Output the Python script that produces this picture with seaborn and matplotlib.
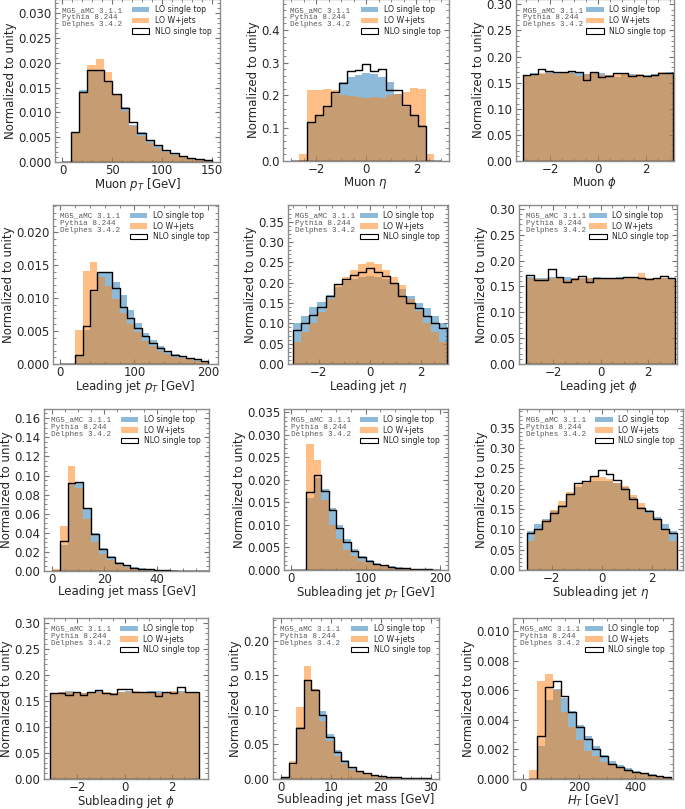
import numpy as np
import pandas as pd
import matplotlib
matplotlib.use("Agg")
import matplotlib.pyplot as plt
from matplotlib.patches import Patch
from matplotlib.ticker import AutoMinorLocator
import seaborn as sns

sns.set_theme(style="ticks")
plt.rcParams["font.family"] = ["DejaVu Sans"]
plt.rcParams["mathtext.fontset"] = "dejavusans"

PI = np.pi

# ---- data: normalized bin contents ----
# order in every panel: LO single top, LO W+jets, NLO single top

# Muon pT
muon_pt_edges = np.linspace(0, 150, 19)
muon_pt_lo_top = [0, 0.0059, 0.0145, 0.0183, 0.0185, 0.0162, 0.0135, 0.0110, 0.0074, 0.0060, 0.0042,
                  0.0034, 0.0025, 0.0018, 0.0013, 0.0009, 0.0006, 0.0004]
muon_pt_wjets = [0, 0.0058, 0.0140, 0.0196, 0.0207, 0.0182, 0.0135, 0.0103, 0.0072, 0.0052, 0.0038,
                 0.0029, 0.0021, 0.0015, 0.0011, 0.0008, 0.0005, 0.0004]
muon_pt_nlo = [0, 0.0060, 0.0142, 0.0185, 0.0186, 0.0163, 0.0137, 0.0108, 0.0080, 0.0058, 0.0045,
               0.0034, 0.0024, 0.0018, 0.0013, 0.0009, 0.0006, 0.0004]

# Muon eta
muon_eta_edges = np.linspace(-3, 3, 20)
muon_eta_lo_top = [0, 0, 0.115, 0.140, 0.165, 0.205, 0.240, 0.255, 0.262, 0.270, 0.265, 0.255, 0.240,
                   0.205, 0.165, 0.140, 0.110, 0, 0]
muon_eta_wjets = [0, 0.020, 0.217, 0.217, 0.219, 0.217, 0.200, 0.198, 0.196, 0.193, 0.196, 0.193, 0.200,
                  0.205, 0.210, 0.222, 0.219, 0.020, 0]
muon_eta_nlo = [0, 0, 0.118, 0.140, 0.168, 0.210, 0.238, 0.275, 0.278, 0.295, 0.275, 0.280, 0.217,
                0.217, 0.170, 0.140, 0.107, 0, 0]

# Muon phi
muon_phi_edges = np.linspace(-PI, PI, 21)
muon_phi_lo_top = [0.163, 0.169, 0.166, 0.170, 0.169, 0.168, 0.170, 0.168, 0.166, 0.169, 0.168, 0.165,
                   0.161, 0.169, 0.167, 0.165, 0.165, 0.166, 0.167, 0.170]
muon_phi_wjets = [0.164, 0.167, 0.169, 0.168, 0.166, 0.169, 0.168, 0.163, 0.166, 0.168, 0.164, 0.165,
                  0.166, 0.168, 0.164, 0.166, 0.163, 0.165, 0.170, 0.168]
muon_phi_nlo = [0.164, 0.166, 0.176, 0.173, 0.171, 0.170, 0.172, 0.170, 0.155, 0.171, 0.160, 0.162,
                0.169, 0.169, 0.163, 0.165, 0.162, 0.164, 0.169, 0.169]

# Leading jet pT
jet1_pt_edges = np.linspace(0, 200, 21)
jet1_pt_lo_top = [0, 0, 0.0012, 0.0052, 0.0110, 0.0138, 0.0140, 0.0125, 0.0105, 0.0082, 0.0063, 0.0047,
                  0.0036, 0.0027, 0.0020, 0.0015, 0.0012, 0.0009, 0.0007, 0.0005]
jet1_pt_wjets = [0, 0, 0.0051, 0.0142, 0.0155, 0.0132, 0.0118, 0.0098, 0.0077, 0.0060, 0.0048, 0.0035,
                 0.0027, 0.0020, 0.0015, 0.0011, 0.0009, 0.0007, 0.0005, 0.0004]
jet1_pt_nlo = [0, 0, 0.0014, 0.0057, 0.0112, 0.0140, 0.0139, 0.0115, 0.0087, 0.0070, 0.0055, 0.0042,
               0.0032, 0.0024, 0.0019, 0.0014, 0.0012, 0.0009, 0.0007, 0.0005]

# Leading jet eta
jet1_eta_edges = np.linspace(-3, 3, 20)
jet1_eta_lo_top = [0.100, 0.118, 0.140, 0.152, 0.170, 0.190, 0.203, 0.210, 0.214, 0.216, 0.214, 0.208,
                   0.200, 0.185, 0.168, 0.150, 0.138, 0.118, 0.100]
jet1_eta_wjets = [0.055, 0.078, 0.100, 0.127, 0.160, 0.195, 0.215, 0.232, 0.245, 0.252, 0.245, 0.232,
                  0.215, 0.195, 0.160, 0.130, 0.100, 0.078, 0.055]
jet1_eta_nlo = [0.084, 0.100, 0.120, 0.141, 0.168, 0.196, 0.208, 0.218, 0.226, 0.235, 0.226, 0.216,
                0.198, 0.168, 0.150, 0.138, 0.119, 0.100, 0.088]

# Leading jet phi
jet1_phi_edges = np.linspace(-PI, PI, 21)
jet1_phi_lo_top = [0.168, 0.166, 0.166, 0.168, 0.167, 0.168, 0.166, 0.167, 0.166, 0.168, 0.167, 0.167,
                   0.169, 0.168, 0.169, 0.166, 0.165, 0.166, 0.167, 0.166]
jet1_phi_wjets = [0.167, 0.165, 0.165, 0.167, 0.166, 0.162, 0.166, 0.166, 0.166, 0.165, 0.166, 0.165,
                  0.166, 0.169, 0.168, 0.177, 0.166, 0.165, 0.166, 0.165]
jet1_phi_nlo = [0.172, 0.163, 0.163, 0.183, 0.168, 0.158, 0.164, 0.170, 0.159, 0.167, 0.166, 0.166,
                0.166, 0.168, 0.168, 0.166, 0.165, 0.167, 0.171, 0.167]

# Leading jet mass
jet1_m_edges = np.linspace(0, 60, 21)
jet1_m_lo_top = [0, 0.027, 0.091, 0.092, 0.066, 0.040, 0.024, 0.0155, 0.0095, 0.0062, 0.0038, 0.0027,
                 0.0018, 0.0013, 0.0009, 0.0006, 0.0004, 0.0003, 0.0002, 0.0001]
jet1_m_wjets = [0.002, 0.047, 0.110, 0.087, 0.054, 0.030, 0.018, 0.011, 0.007, 0.0045, 0.003, 0.002,
                0.0013, 0.0009, 0.0006, 0.0004, 0.0003, 0.0002, 0.0001, 0.0001]
jet1_m_nlo = [0, 0.031, 0.0917, 0.0928, 0.0655, 0.039, 0.0228, 0.0147, 0.0088, 0.006, 0.0035, 0.0025,
              0.0017, 0.0012, 0.0008, 0.0005, 0.0004, 0.0003, 0.0002, 0.0001]

# Subleading jet pT
jet2_pt_edges = np.linspace(0, 200, 21)
jet2_pt_lo_top = [0, 0, 0.0160, 0.0205, 0.0180, 0.0138, 0.0100, 0.0068, 0.0047, 0.0032, 0.0022, 0.0015,
                  0.0011, 0.0008, 0.0006, 0.0004, 0.0003, 0.0002, 0.0002, 0.0001]
jet2_pt_wjets = [0, 0, 0.0280, 0.0245, 0.0155, 0.0100, 0.0068, 0.0045, 0.0030, 0.0021, 0.0015, 0.0011,
                 0.0008, 0.0006, 0.0004, 0.0003, 0.0002, 0.0002, 0.0001, 0.0001]
jet2_pt_nlo = [0, 0, 0.0172, 0.0211, 0.0176, 0.0132, 0.0094, 0.0063, 0.0042, 0.0029, 0.0020, 0.0014,
               0.0010, 0.0007, 0.0005, 0.0004, 0.0003, 0.0002, 0.0002, 0.0001]

# Subleading jet eta
jet2_eta_edges = np.linspace(-3, 3, 20)
jet2_eta_lo_top = [0.097, 0.112, 0.125, 0.145, 0.160, 0.185, 0.205, 0.215, 0.218, 0.218, 0.218, 0.215,
                   0.205, 0.180, 0.155, 0.148, 0.130, 0.112, 0.097]
jet2_eta_wjets = [0.072, 0.098, 0.122, 0.148, 0.170, 0.192, 0.210, 0.220, 0.228, 0.228, 0.225, 0.215,
                  0.207, 0.185, 0.165, 0.140, 0.122, 0.098, 0.072]
jet2_eta_nlo = [0.090, 0.100, 0.121, 0.140, 0.157, 0.188, 0.215, 0.218, 0.230, 0.245, 0.237, 0.222,
                0.200, 0.175, 0.152, 0.145, 0.125, 0.102, 0.090]

# Subleading jet phi
jet2_phi_edges = np.linspace(-PI, PI, 21)
jet2_phi_lo_top = [0.165, 0.166, 0.168, 0.166, 0.165, 0.167, 0.168, 0.164, 0.165, 0.167, 0.169, 0.166,
                   0.167, 0.168, 0.169, 0.167, 0.166, 0.168, 0.165, 0.167]
jet2_phi_wjets = [0.165, 0.166, 0.166, 0.165, 0.164, 0.165, 0.167, 0.166, 0.164, 0.166, 0.167, 0.168,
                  0.166, 0.167, 0.165, 0.166, 0.168, 0.167, 0.166, 0.166]
jet2_phi_nlo = [0.164, 0.165, 0.161, 0.167, 0.162, 0.166, 0.171, 0.165, 0.163, 0.172, 0.172, 0.167,
                0.166, 0.167, 0.160, 0.167, 0.165, 0.176, 0.166, 0.167]

# Subleading jet mass
jet2_m_edges = np.linspace(0, 30, 21)
jet2_m_lo_top = [0.002, 0.020, 0.075, 0.143, 0.130, 0.098, 0.064, 0.042, 0.027, 0.017, 0.011, 0.0078,
                 0.0052, 0.0036, 0.0026, 0.0018, 0.0012, 0.0008, 0.0005, 0.0003]
jet2_m_wjets = [0.002, 0.025, 0.103, 0.163, 0.130, 0.083, 0.055, 0.033, 0.021, 0.013, 0.009, 0.006,
                0.004, 0.003, 0.002, 0.0014, 0.001, 0.0007, 0.0004, 0.0002]
jet2_m_nlo = [0.002, 0.022, 0.073, 0.143, 0.128, 0.092, 0.060, 0.038, 0.025, 0.016, 0.011, 0.0075,
              0.005, 0.0035, 0.0025, 0.0017, 0.0012, 0.0008, 0.0005, 0.0003]

# HT
ht_edges = np.linspace(20, 530, 19)
ht_lo_top = [0, 0.0022, 0.0053, 0.0061, 0.0055, 0.0046, 0.0036, 0.0029, 0.0022, 0.0016, 0.0012, 0.0009,
             0.0007, 0.0005, 0.0004, 0.0003, 0.0002, 0.0001]
ht_wjets = [0.00056, 0.0066, 0.0071, 0.0060, 0.0045, 0.0035, 0.0026, 0.0019, 0.0015, 0.0011, 0.0009,
            0.0007, 0.0005, 0.0004, 0.0003, 0.0002, 0.00015, 0.0001]
ht_nlo = [0, 0.0029, 0.0062, 0.0066, 0.0056, 0.0045, 0.0035, 0.0027, 0.0020, 0.0015, 0.0010, 0.0008,
          0.0006, 0.00045, 0.00034, 0.00023, 0.00014, 0.00008]

labels = ["LO single top", "LO W+jets", "NLO single top"]
gen_text = "MG5_aMC 3.1.1\nPythia 8.244\nDelphes 3.4.2"

# panel settings: data, x label, limits, ticks, and the box in pixels (left, top, right, bottom)
panels = [
    (muon_pt_edges, muon_pt_lo_top, muon_pt_wjets, muon_pt_nlo, r"Muon $p_T$ [GeV]",
     (-7.5, 158), [0, 50, 100, 150], 0.03284, np.arange(0, 0.0301, 0.005), (55, -0.8, 220, 162)),
    (muon_eta_edges, muon_eta_lo_top, muon_eta_wjets, muon_eta_nlo, r"Muon $\eta$",
     (-3.33, 3.3), [-2, 0, 2], 0.494, np.arange(0, 0.41, 0.1), (283, -0.8, 449, 161)),
    (muon_phi_edges, muon_phi_lo_top, muon_phi_wjets, muon_phi_nlo, r"Muon $\phi$",
     (-3.43, 3.18), [-2, 0, 2], 0.3098, np.arange(0, 0.301, 0.05), (516, -0.8, 674, 161)),
    (jet1_pt_edges, jet1_pt_lo_top, jet1_pt_wjets, jet1_pt_nlo, r"Leading jet $p_T$ [GeV]",
     (-10, 213), [0, 100, 200], 0.02415, np.arange(0, 0.0201, 0.005), (53, 205, 218, 364)),
    (jet1_eta_edges, jet1_eta_lo_top, jet1_eta_wjets, jet1_eta_nlo, r"Leading jet $\eta$",
     (-3.2, 3.04), [-2, 0, 2], 0.391, np.arange(0, 0.351, 0.05), (288, 205, 448, 364)),
    (jet1_phi_edges, jet1_phi_lo_top, jet1_phi_wjets, jet1_phi_nlo, r"Leading jet $\phi$",
     (-3.44, 3.22), [-2, 0, 2], 0.3077, np.arange(0, 0.301, 0.05), (519, 205, 677, 364)),
    (jet1_m_edges, jet1_m_lo_top, jet1_m_wjets, jet1_m_nlo, "Leading jet mass [GeV]",
     (-3, 60), [0, 20, 40], 0.1697, np.arange(0, 0.161, 0.02), (44, 409, 209, 571)),
    (jet2_pt_edges, jet2_pt_lo_top, jet2_pt_wjets, jet2_pt_nlo, r"Subleading jet $p_T$ [GeV]",
     (-10, 211), [0, 100, 200], 0.0357, np.arange(0, 0.0351, 0.005), (284, 409, 448, 570)),
    (jet2_eta_edges, jet2_eta_lo_top, jet2_eta_wjets, jet2_eta_nlo, r"Subleading jet $\eta$",
     (-3.3, 3.25), [-2, 0, 2], 0.396, np.arange(0, 0.351, 0.05), (519, 409, 683, 570)),
    (jet2_phi_edges, jet2_phi_lo_top, jet2_phi_wjets, jet2_phi_nlo, r"Subleading jet $\phi$",
     (-3.4, 3.5), [-2, 0, 2], 0.3096, np.arange(0, 0.301, 0.05), (44, 618, 208, 778.5)),
    (jet2_m_edges, jet2_m_lo_top, jet2_m_wjets, jet2_m_nlo, "Subleading jet mass [GeV]",
     (-1.6, 31.6), [0, 10, 20, 30], 0.2328, np.arange(0, 0.201, 0.05), (273, 618, 439, 778.5)),
    (ht_edges, ht_lo_top, ht_wjets, ht_nlo, r"$H_T$ [GeV]",
     (-37, 536), [0, 200, 400], 0.0109, np.arange(0, 0.0101, 0.002), (513, 618, 673, 778.5)),
]

W, H = 685, 809
fig = plt.figure(figsize=(W / 100, H / 100), dpi=100)

blue = "#1f77b4"
orange = "#ff7f0e"

for edges, lo_top, wjets, nlo, xlabel, xlim, xticks, ytop, yticks, box in panels:
    l, t, r, b = box
    ax = fig.add_axes([l / W, 1 - b / H, (r - l) / W, (b - t) / H])
    bins = [float(e) for e in edges]
    centers = 0.5 * (edges[:-1] + edges[1:])
    df = pd.DataFrame({"x": centers, "lo_top": lo_top, "wjets": wjets, "nlo": nlo})

    sns.histplot(data=df, x="x", weights="lo_top", bins=bins, element="bars", color=blue,
                 alpha=0.5, linewidth=0, ax=ax)
    sns.histplot(data=df, x="x", weights="wjets", bins=bins, element="bars", color=orange,
                 alpha=0.5, linewidth=0, ax=ax)
    sns.histplot(data=df, x="x", weights="nlo", bins=bins, element="step", fill=True,
                 color="black", facecolor="none", edgecolor="black", linewidth=1.0, ax=ax)

    ax.set_xlim(*xlim)
    ax.set_ylim(0, ytop)
    ax.set_xticks(xticks)
    ax.set_yticks(yticks)
    ax.xaxis.set_minor_locator(AutoMinorLocator())
    ax.yaxis.set_minor_locator(AutoMinorLocator())
    ax.tick_params(which="both", direction="in", top=True, right=True, color="0.45",
                   labelsize=8.5)
    ax.tick_params(axis="x", which="both", pad=1.5)
    ax.tick_params(axis="y", which="both", pad=2.5)
    ax.tick_params(which="major", length=3.5, width=0.8)
    ax.tick_params(which="minor", length=2, width=0.6)
    for s in ax.spines.values():
        s.set_color("0.55")
        s.set_linewidth(1.0)

    ax.set_xlabel(xlabel, fontsize=8.5, labelpad=-0.5)
    ax.set_ylabel("Normalized to unity", fontsize=8.5, labelpad=1)

    ax.text(0.042, 0.952, gen_text, transform=ax.transAxes, ha="left", va="top",
            fontsize=5.5, family=["Liberation Mono", "DejaVu Sans Mono"], color="0.35",
            linespacing=1.0)

    handles = [Patch(facecolor=blue, alpha=0.5, edgecolor="none"),
               Patch(facecolor=orange, alpha=0.5, edgecolor="none"),
               Patch(facecolor="white", edgecolor="black", linewidth=0.8)]
    ax.legend(handles, labels, loc="upper right", bbox_to_anchor=(0.985, 1.0), frameon=False,
              fontsize=5.6, handlelength=2.2, handletextpad=0.65, labelspacing=0.2,
              borderaxespad=0.4)

fig.savefig("out.png", dpi=100)
